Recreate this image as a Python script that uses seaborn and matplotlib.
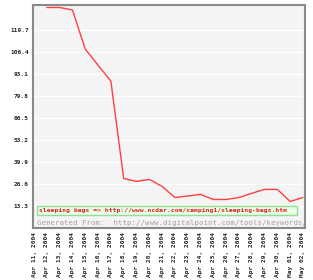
import numpy as np
import pandas as pd
import matplotlib
matplotlib.use("Agg")
import matplotlib.pyplot as plt
import seaborn as sns

dates = ["Apr 11, 2004", "Apr 12, 2004", "Apr 13, 2004", "Apr 14, 2004", "Apr 15, 2004",
         "Apr 16, 2004", "Apr 17, 2004", "Apr 18, 2004", "Apr 19, 2004", "Apr 20, 2004",
         "Apr 21, 2004", "Apr 22, 2004", "Apr 23, 2004", "Apr 24, 2004", "Apr 25, 2004",
         "Apr 26, 2004", "Apr 27, 2004", "Apr 28, 2004", "Apr 29, 2004", "Apr 30, 2004",
         "May 01, 2004", "May 02, 2004"]
values = [np.nan, 133.0, 133.0, 131.5, 107.9, 98.2, 88.6, 29.9, 28.1, 29.3,
          25.1, 18.4, 19.3, 20.3, 17.2, 17.2, 18.4, 20.9, 23.3, 23.3, 16.0, 18.4]
yticks = [13.3, 26.6, 39.9, 53.2, 66.5, 79.8, 93.1, 106.4, 119.7]
series_label = "sleeping bags => http://www.ncdar.com/camping1/sleeping-bags.htm"
footer = "Generated From:  http://www.digitalpoint.com/tools/keywords/"

df = pd.DataFrame({"pos": np.arange(len(dates)), "value": values})

sns.set_style("white")
fig = plt.figure(figsize=(3.13, 2.80), dpi=100)
ax = fig.add_axes([33/313, 1-228/280, (305-33)/313, (228-5)/280])
ax.set_facecolor("#f4f4f4")

for t in yticks:
    ax.axhline(t, color="white", lw=1.0, zorder=1)

sns.lineplot(data=df, x="pos", y="value", ax=ax, color="#ff4040", lw=1.0, zorder=3)

ax.set_xlim(-0.08, 21.16)
ax.set_ylim(0, 134.5)
ax.set_xticks(df["pos"])
ax.set_xticklabels(dates, rotation=90, fontsize=4.4, family="DejaVu Sans Mono",
                   fontweight="bold", va="top", ha="center")
ax.set_yticks(yticks)
ax.set_yticklabels([f"{t:.1f}" for t in yticks], fontsize=4.4,
                   family="DejaVu Sans Mono", fontweight="bold")
ax.tick_params(axis="both", length=0, pad=3)
ax.set_xlabel("")
ax.set_ylabel("")
for s in ax.spines.values():
    s.set_color("#8a8a8a")
    s.set_linewidth(1.5)

ax.text(0.022, 0.078, series_label + "  ", transform=ax.transAxes, fontsize=4.6,
        family="DejaVu Sans Mono", fontweight="bold", color="#e02020", va="center", ha="left",
        zorder=5,
        bbox=dict(boxstyle="square,pad=0.35", fc="#eaffea", ec="#90e090", lw=1.0))
ax.text(0.015, 0.022, footer, transform=ax.transAxes, fontsize=5.3,
        family="DejaVu Sans Mono", color="#a0a0a0", va="center", ha="left", zorder=5)

fig.savefig("out.png", dpi=100, facecolor="white")
